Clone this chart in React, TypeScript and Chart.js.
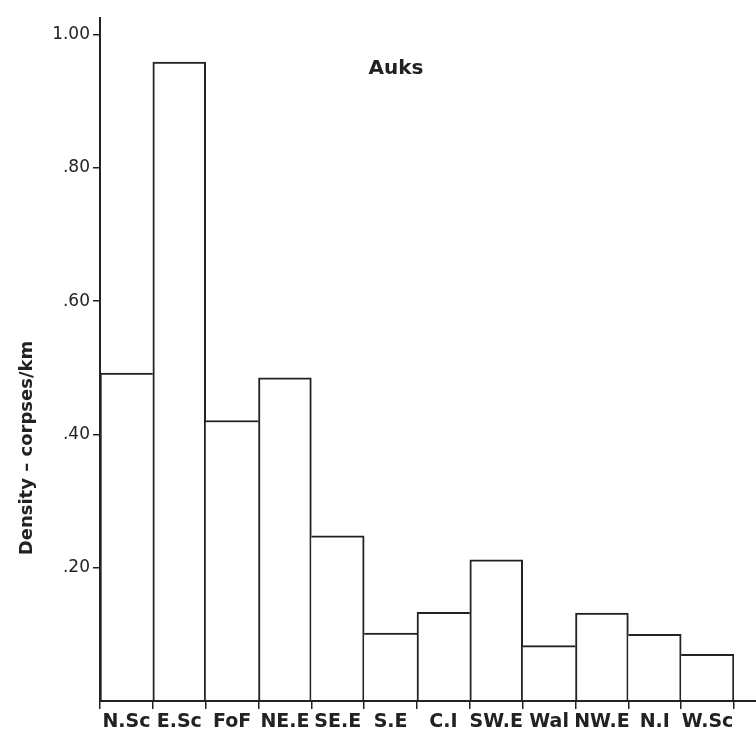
import React, { useEffect, useRef } from "react";
import { Chart, registerables } from "chart.js";

Chart.register(...registerables);

const categories = ["N.Sc", "E.Sc", "FoF", "NE.E", "SE.E", "S.E", "C.I", "SW.E", "Wal", "NW.E", "N.I", "W.Sc"];
const density = [0.492, 0.959, 0.421, 0.485, 0.248, 0.102, 0.133, 0.212, 0.083, 0.132, 0.1, 0.07];
const yTickValues = [0.2, 0.4, 0.6, 0.8, 1.0];
const yTickLabels = [".20", ".40", ".60", ".80", "1.00"];
const chartTitle = "Auks";
const yTitle = "Density \u2013 corpses/km";

const INK = "#222";

const extrasPlugin = {
  id: "extras",
  afterDraw(chart: any) {
    const { ctx, chartArea, width } = chart;
    ctx.save();
    ctx.strokeStyle = INK;
    ctx.lineWidth = 2;
    ctx.beginPath();
    ctx.moveTo(chartArea.left - 1, chartArea.bottom);
    ctx.lineTo(width, chartArea.bottom);
    ctx.stroke();
    ctx.beginPath();
    ctx.moveTo(chartArea.left, chartArea.top);
    ctx.lineTo(chartArea.left, chartArea.bottom + 1);
    ctx.stroke();
    ctx.fillStyle = INK;
    ctx.font = "bold 20px 'DejaVu Sans'";
    ctx.textAlign = "center";
    ctx.textBaseline = "middle";
    ctx.fillText(chartTitle, 396, 69);
    ctx.translate(27, 448);
    ctx.rotate(-Math.PI / 2);
    ctx.font = "bold 18px 'DejaVu Sans'";
    ctx.fillText(yTitle, 0, 0);
    ctx.restore();
  },
};

export default function App() {
  const ref = useRef<HTMLCanvasElement | null>(null);
  useEffect(() => {
    document.body.style.margin = "0";
    document.body.style.overflow = "hidden";
    const canvas = ref.current!;
    const n = density.length;
    const chart = new Chart(canvas, {
      type: "bar",
      data: {
        labels: categories,
        datasets: [
          {
            data: density,
            backgroundColor: "#ffffff",
            borderColor: INK,
            borderWidth: (c: any) => {
              const i = c.dataIndex;
              const v = density[i];
              const left = i === 0 || v >= density[i - 1] ? 2 : 0;
              const right = i === n - 1 || v > density[i + 1] ? 2 : 0;
              return { top: 2, left, right, bottom: 0 };
            },
            borderSkipped: "start",
            barPercentage: 1,
            categoryPercentage: 1,
          },
        ],
      },
      options: {
        animation: false,
        responsive: false,
        devicePixelRatio: 1,
        layout: { padding: { top: 18, right: 22, left: 0, bottom: 0 } },
        plugins: { legend: { display: false }, tooltip: { enabled: false } },
        scales: {
          x: {
            grid: {
              display: true,
              drawOnChartArea: false,
              drawTicks: true,
              tickLength: 8,
              color: INK,
              lineWidth: 1.5,
              offset: true,
            },
            border: { display: true, color: INK, width: 2 },
            ticks: {
              color: INK,
              font: { family: "'DejaVu Sans'", weight: "bold", size: 19 },
              padding: 2,
              maxRotation: 0,
              autoSkip: false,
            },
            afterFit: (s: any) => {
              s.height = 37;
            },
          },
          y: {
            min: 0,
            max: 1.025,
            afterBuildTicks: (s: any) => {
              s.ticks = yTickValues.map((v) => ({ value: v }));
            },
            ticks: {
              color: INK,
              font: { family: "'DejaVu Sans'", size: 17 },
              padding: 3,
              callback: (v: any) => yTickLabels[yTickValues.indexOf(Number(v))] ?? "",
            },
            grid: {
              drawOnChartArea: false,
              drawTicks: true,
              tickLength: 7,
              color: INK,
              lineWidth: 1.5,
            },
            border: { display: true, color: INK, width: 2 },
            afterFit: (s: any) => {
              s.width = 100;
            },
          },
        },
      },
      plugins: [extrasPlugin],
    });
    return () => chart.destroy();
  }, []);
  return <canvas ref={ref} width={756} height={738} style={{ display: "block" }} />;
}
